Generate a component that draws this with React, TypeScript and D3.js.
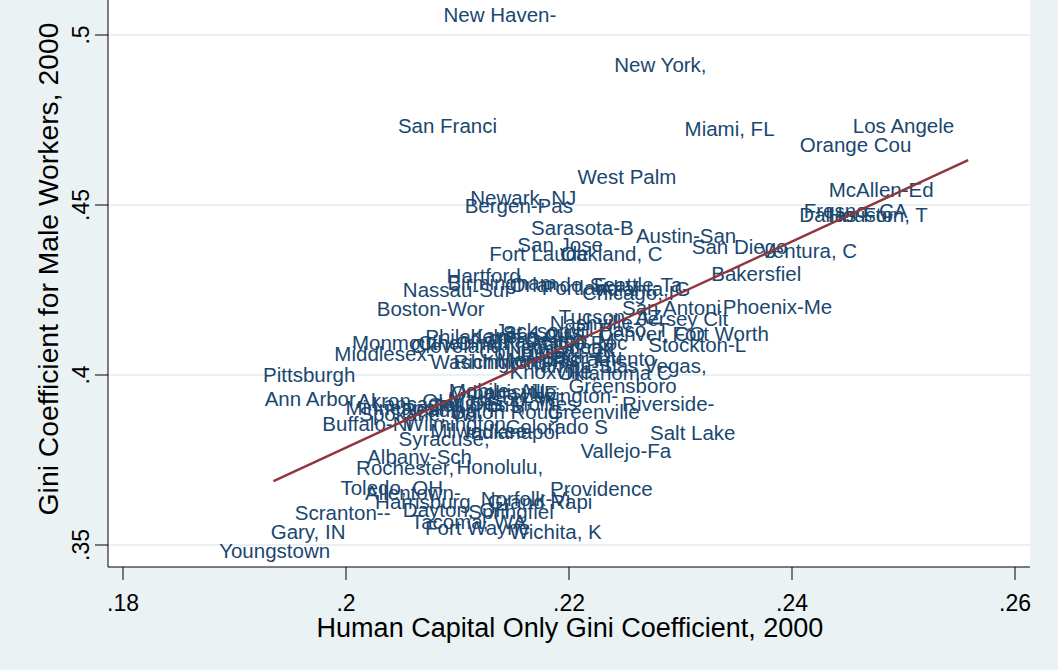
import React from 'react';
import * as d3 from 'd3';

// metro area labels (truncated to 10 chars as in the original)
const msaNames = [
  'New Haven-', 'New York,', 'San Franci', 'Miami, FL', 'Los Angele', 'Orange Cou', 'West Palm',
  'McAllen-Ed', 'Fresno, CA', 'Dallas-For', 'Houston, T', 'Newark, NJ', 'Bergen-Pas', 'Sarasota-B',
  'Austin-San', 'San Jose', 'San Diego', 'Fort Laude', 'Oakland, C', 'Ventura, C', 'Bakersfiel',
  'Hartford,', 'Birmingham', 'Orlando, F', 'Seattle-Ta', 'Portland-V', 'Atlanta, G', 'Nassau-Suf',
  'Chicago, I', 'Boston-Wor', 'San Antoni', 'Phoenix-Me', 'Tucson, AZ', 'Jersey Cit', 'Nashville-',
  'El Paso, T', 'Jacksonvil', 'St. Louis,', 'Fort Worth', 'Denver, CO', 'Kansas Cit', 'Philadelph',
  'Detroit, M', 'Charleston', 'Monmouth-O', 'Cincinnati', 'Little Roc', 'Stockton-L', 'Cleveland-',
  'New Orlean', 'Tulsa, OK', 'Columbia,', 'Middlesex-', 'Raleigh-Du', 'Sacramento', 'Memphis, T',
  'Washington', 'Richmond-P', 'Las Vegas,', 'Tampa-St.', 'Knoxville,', 'Oklahoma C', 'Pittsburgh',
  'Greensboro', 'Mobile, AL', 'Louisville', 'Omaha, NE-', 'Lexington-', 'Ann Arbor,', 'Madison, W',
  'Akron, OH', 'Riverside-', 'Lancaster,', 'Des Moines', 'Columbus,', 'Minneapoli', 'Reading, P',
  'Baton Roug', 'Greenville', 'Spokane, W', 'Buffalo-Ni', 'Wilmington', 'Colorado S', 'Milwaukee-',
  'Indianapol', 'Salt Lake', 'Syracuse,', 'Vallejo-Fa', 'Albany-Sch', 'Honolulu,', 'Rochester,',
  'Toledo, OH', 'Providence', 'Allentown-', 'Norfolk-Vi', 'Harrisburg', 'Grand Rapi', 'Dayton, OH',
  'Springfiel', 'Scranton--', 'Tacoma, WA', 'Fort Wayne', 'Wichita, K', 'Gary, IN', 'Youngstown',
];

const humanCapGini = [
  0.2138, 0.2282, 0.2091, 0.2344, 0.2500, 0.2457, 0.2252,
  0.2480, 0.2457, 0.2449, 0.2477, 0.2159, 0.2155, 0.2212,
  0.2305, 0.2192, 0.2353, 0.2173, 0.2238, 0.2415, 0.2368,
  0.2126, 0.2140, 0.2190, 0.2260, 0.2219, 0.2268, 0.2099,
  0.2253, 0.2076, 0.2292, 0.2387, 0.2237, 0.2302, 0.2223,
  0.2248, 0.2176, 0.2179, 0.2336, 0.2274, 0.2156, 0.2114,
  0.2201, 0.2172, 0.2059, 0.2105, 0.2214, 0.2315, 0.2102,
  0.2192, 0.2202, 0.2161, 0.2034, 0.2202, 0.2228, 0.2183,
  0.2124, 0.2147, 0.2278, 0.2207, 0.2186, 0.2241, 0.1967,
  0.2248, 0.2135, 0.2151, 0.2145, 0.2201, 0.1970, 0.2140,
  0.2053, 0.2289, 0.2066, 0.2159, 0.2117, 0.2044, 0.2095,
  0.2143, 0.2222, 0.2062, 0.2019, 0.2098, 0.2189, 0.2122,
  0.2149, 0.2311, 0.2088, 0.2251, 0.2066, 0.2138, 0.2053,
  0.2041, 0.2229, 0.2060, 0.2161, 0.2069, 0.2174, 0.2099,
  0.2148, 0.1997, 0.2110, 0.2118, 0.2188, 0.1966, 0.1936,
];

const maleGini = [
  0.5059, 0.4912, 0.4732, 0.4724, 0.4732, 0.4676, 0.4582,
  0.4544, 0.4482, 0.4471, 0.4471, 0.4521, 0.4497, 0.4432,
  0.4409, 0.4382, 0.4376, 0.4356, 0.4356, 0.4365, 0.4297,
  0.4291, 0.4271, 0.4265, 0.4265, 0.4256, 0.4253, 0.4250,
  0.4241, 0.4194, 0.4197, 0.4200, 0.4171, 0.4165, 0.4153,
  0.4132, 0.4129, 0.4124, 0.4121, 0.4121, 0.4115, 0.4112,
  0.4103, 0.4100, 0.4094, 0.4094, 0.4094, 0.4088, 0.4085,
  0.4082, 0.4074, 0.4068, 0.4062, 0.4056, 0.4047, 0.4044,
  0.4038, 0.4038, 0.4026, 0.4026, 0.4009, 0.4006, 0.4000,
  0.3968, 0.3953, 0.3950, 0.3947, 0.3938, 0.3929, 0.3929,
  0.3924, 0.3915, 0.3915, 0.3915, 0.3912, 0.3903, 0.3897,
  0.3891, 0.3891, 0.3885, 0.3856, 0.3856, 0.3847, 0.3835,
  0.3832, 0.3829, 0.3812, 0.3776, 0.3759, 0.3729, 0.3726,
  0.3668, 0.3665, 0.3653, 0.3635, 0.3626, 0.3626, 0.3603,
  0.3597, 0.3594, 0.3568, 0.3550, 0.3538, 0.3538, 0.3482,
];

// linear fit endpoints
const fitX = [0.1935, 0.2558];
const fitY = [0.3688, 0.4632];

const xTicks = [0.18, 0.2, 0.22, 0.24, 0.26];
const yTicks = [0.35, 0.4, 0.45, 0.5];

const fmt = (v: number) => String(v).replace(/^0/, '');

const W = 1058;
const H = 670;
const plot = { left: 108, right: 1030, top: 0, bottom: 567 };
const navy = '#1a476f';
const font = '"Liberation Sans", Arial, sans-serif';

export default function App() {
  const x = d3.scaleLinear().domain([0.18, 0.26]).range([123, 1015]);
  const y = d3.scaleLinear().domain([0.35, 0.5]).range([545, 35]);

  const line = d3
    .line<number>()
    .x((d) => x(d))
    .y((_, i) => y(fitY[i]));

  return (
    <div style={{ position: 'fixed', left: 0, top: 0 }}>
      <svg width={W} height={H} style={{ display: 'block' }} fontFamily={font}>
        <rect x={0} y={0} width={W} height={H} fill="#eaf2f3" />
        <rect
          x={plot.left}
          y={plot.top}
          width={plot.right - plot.left}
          height={plot.bottom - plot.top}
          fill="#ffffff"
        />

        {/* gridlines */}
        {yTicks.map((t) => (
          <line
            key={'g' + t}
            x1={plot.left}
            x2={plot.right}
            y1={y(t)}
            y2={y(t)}
            stroke="#e3ecef"
            strokeWidth={1.5}
          />
        ))}

        {/* labels as markers */}
        {msaNames.map((name, i) => (
          <text
            key={i}
            x={x(humanCapGini[i])}
            y={y(maleGini[i])}
            dy="0.35em"
            textAnchor="middle"
            fontSize={20.5}
            fill={navy}
          >
            {name}
          </text>
        ))}

        <path d={line(fitX) || ''} fill="none" stroke="#90353b" strokeWidth={2.4} />

        {/* axes */}
        <line x1={plot.left} x2={plot.left} y1={plot.top} y2={plot.bottom} stroke="#000" strokeWidth={1} />
        <line x1={plot.left} x2={plot.right} y1={plot.bottom} y2={plot.bottom} stroke="#000" strokeWidth={1} />

        {yTicks.map((t) => (
          <g key={'y' + t}>
            <line x1={plot.left - 13} x2={plot.left} y1={y(t)} y2={y(t)} stroke="#000" />
            <text
              transform={`translate(89,${y(t)}) rotate(-90)`}
              textAnchor="middle"
              fontSize={23}
              fill="#000"
            >
              {fmt(t)}
            </text>
          </g>
        ))}

        {xTicks.map((t) => (
          <g key={'x' + t}>
            <line x1={x(t)} x2={x(t)} y1={plot.bottom} y2={plot.bottom + 13} stroke="#000" />
            <text x={x(t)} y={611} textAnchor="middle" fontSize={23} fill="#000">
              {fmt(t)}
            </text>
          </g>
        ))}

        <text x={570} y={637} textAnchor="middle" fontSize={27} fill="#000">
          Human Capital Only Gini Coefficient, 2000
        </text>
        <text
          transform={`translate(58,269) rotate(-90)`}
          textAnchor="middle"
          fontSize={28.3}
          fill="#000"
        >
          Gini Coefficient for Male Workers, 2000
        </text>
      </svg>
    </div>
  );
}
